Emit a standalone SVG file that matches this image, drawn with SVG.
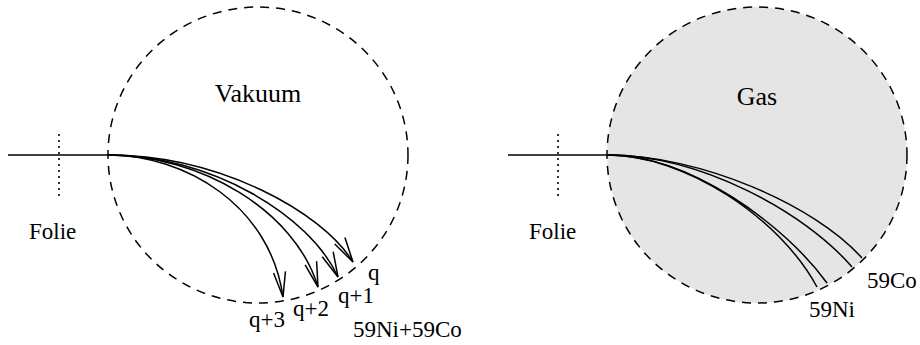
<svg xmlns="http://www.w3.org/2000/svg" width="920" height="345" viewBox="0 0 920 345">
<style>
.circ{fill:none;stroke:#000;stroke-width:1.5;stroke-dasharray:9 7}
.gas{fill:#e5e5e5}
.dot{stroke:#000;stroke-width:1.6;stroke-dasharray:2 4}
.ln{fill:none;stroke:#000;stroke-width:1.5}
text{font-family:'Liberation Serif',serif !important}
</style>
<defs>
<marker id="arr" markerUnits="userSpaceOnUse" markerWidth="40" markerHeight="20" viewBox="-30 -10 40 20" refX="0" refY="0" orient="auto">
<path d="M -25 -6 L 0 0 L -25 6" fill="none" stroke="#000" stroke-width="1.5"/>
</marker>
</defs>
<rect x="0" y="0" width="920" height="345" fill="#fff"/>
<g id="vakuum">
<ellipse class="circ" cx="258" cy="155" rx="150" ry="148"/>
<text style="font-family:'Liberation Serif',serif;font-size:26px" x="258" y="102" text-anchor="middle">Vakuum</text>
</g>
<g id="gas">
<ellipse class="gas" cx="757" cy="155" rx="150" ry="148"/>
<ellipse class="circ" cx="757" cy="155" rx="150" ry="148"/>
<text style="font-family:'Liberation Serif',serif;font-size:26px" x="757" y="105" text-anchor="middle">Gas</text>
</g>
<g id="folie-left">
<line class="dot" x1="59" y1="134" x2="59" y2="200"/>
<text style="font-family:'Liberation Serif',serif;font-size:23px" x="29" y="239">Folie</text>
</g>
<g id="folie-right">
<line class="dot" x1="558" y1="134" x2="558" y2="200"/>
<text style="font-family:'Liberation Serif',serif;font-size:23px" x="529" y="239">Folie</text>
</g>
<g id="connectors">
<line class="ln" x1="8" y1="155" x2="108" y2="155"/>
<path class="ln" marker-end="url(#arr)" d="M108 155 C220 155 322 212 353 262"/>
<path class="ln" marker-end="url(#arr)" d="M108 155 C210 155 310 215 338 277"/>
<path class="ln" marker-end="url(#arr)" d="M108 155 C200 155 295 210 318 287"/>
<path class="ln" marker-end="url(#arr)" d="M108 155 C185 155 270 205 283 297"/>
<line class="ln" x1="508" y1="155" x2="608" y2="155"/>
<path class="ln" d="M608 155 C700 155 815 205 862 258"/>
<path class="ln" d="M608 155 C700 155 805 212 852 267"/>
<path class="ln" d="M608 155 C690 155 785 225 827 283"/>
<path class="ln" d="M608 155 C685 155 780 218 817 287"/>
</g>
<g id="labels">
<text style="font-family:'Liberation Serif',serif;font-size:23px" x="368" y="280">q</text>
<text style="font-family:'Liberation Serif',serif;font-size:23px" x="338" y="303">q+1</text>
<text style="font-family:'Liberation Serif',serif;font-size:23px" x="293" y="316">q+2</text>
<text style="font-family:'Liberation Serif',serif;font-size:23px" x="249" y="327">q+3</text>
<text style="font-family:'Liberation Serif',serif;font-size:23px" x="353" y="337">59Ni+59Co</text>
<text style="font-family:'Liberation Serif',serif;font-size:23px" x="867" y="288">59Co</text>
<text style="font-family:'Liberation Serif',serif;font-size:23px" x="809" y="317">59Ni</text>
</g>
</svg>
